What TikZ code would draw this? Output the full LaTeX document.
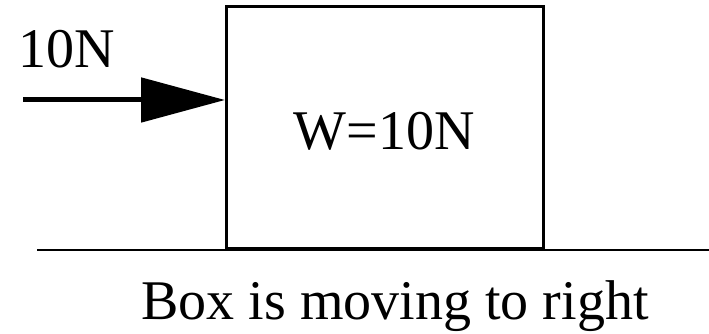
\documentclass[tikz,border=0pt]{standalone}
\usepackage{fontspec}
\setmainfont{Liberation Serif}
\usetikzlibrary{arrows.meta}
\begin{document}
\begin{tikzpicture}[x=1pt,y=1pt]
                \tikzset{every node/.style={inner sep=0pt,font=\fontsize{56}{60}\selectfont},
                         block/.style={draw,line width=3pt,minimum width=317pt,minimum height=242pt},
                         force/.style={line width=5pt,-{Triangle[length=84pt,width=44pt]}}}
                \useasboundingbox (0,0) rectangle (709,334);
                % the box resting on the floor
                \node [block] (box) at (385,206) {};
                \node [anchor=base] (weight) at (384,184) {W=10N};
                % floor
                \coordinate (floorL) at (37,84);
                \coordinate (floorR) at (709,84);
                \draw [line width=2pt] (floorL) -- (floorR);
                % pushing force
                \coordinate (push) at (23,234);
                \draw [force] (push) -- (push -| box.west);
                \node [anchor=base] (flabel) at (67,266) {10N};
                % caption
                \node [anchor=base] (caption) at (395,14) {Box is moving to right};
\end{tikzpicture}
\end{document}
